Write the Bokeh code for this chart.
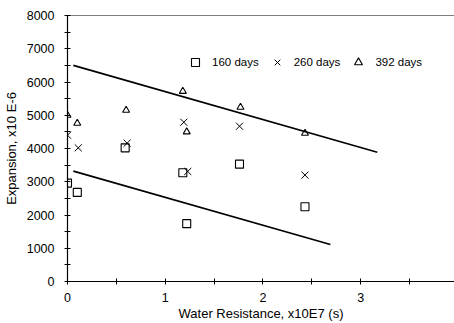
from bokeh.plotting import figure
from bokeh.models import FixedTicker, Span, Legend, LegendItem, Range1d
from bokeh.embed import file_html
from bokeh.resources import INLINE

# ---- data ----
x_160 = [0.0, 0.10, 0.59, 1.18, 1.22, 1.76, 2.43]
y_160 = [2960, 2680, 4020, 3270, 1740, 3530, 2250]
x_260 = [0.0, 0.11, 0.61, 1.19, 1.23, 1.76, 2.43]
y_260 = [4400, 4020, 4160, 4790, 3310, 4670, 3200]
x_392 = [0.0, 0.10, 0.60, 1.18, 1.22, 1.77, 2.43]
y_392 = [5000, 4760, 5150, 5720, 4500, 5240, 4460]

upper_x = [0.06, 3.17]
upper_y = [6500, 3890]
lower_x = [0.06, 2.69]
lower_y = [3320, 1110]

x_ticks = [0, 1, 2, 3, 4]
x_minor = [0.5, 1.5, 2.5, 3.5]
y_ticks = [0, 1000, 2000, 3000, 4000, 5000, 6000, 7000, 8000]
y_minor = [500, 1500, 2500, 3500, 4500, 5500, 6500, 7500]

FONT = "Liberation Sans"

p = figure(width=454, height=323, output_backend="svg", toolbar_location=None,
           x_range=Range1d(0, 3.96), y_range=Range1d(0, 8000),
           min_border_left=67, min_border_right=0, min_border_top=15, min_border_bottom=41)
p.outline_line_color = None
p.grid.visible = False
p.background_fill_color = "white"
p.border_fill_color = "white"

for ax in (p.xaxis[0], p.yaxis[0]):
    ax.axis_line_color = "black"
    ax.axis_line_width = 1.2
    ax.major_tick_in = 3
    ax.major_tick_out = 3
    ax.minor_tick_in = 3
    ax.minor_tick_out = 3
    ax.major_tick_line_color = "black"
    ax.minor_tick_line_color = "black"
    ax.major_label_text_font = FONT
    ax.major_label_text_font_size = "12.5px"
    ax.major_label_text_color = "black"
    ax.axis_label_text_font = FONT
    ax.axis_label_text_font_size = "13px"
    ax.axis_label_text_font_style = "normal"
    ax.axis_label_text_color = "black"

p.xaxis.ticker = FixedTicker(ticks=x_ticks, minor_ticks=x_minor)
p.yaxis.ticker = FixedTicker(ticks=y_ticks, minor_ticks=y_minor)
p.xaxis.axis_label = "Water Resistance, x10E7 (s)"
p.yaxis.axis_label = "Expansion, x10 E-6"
p.xaxis.major_label_standoff = 8
p.xaxis.axis_label_standoff = 1
p.yaxis.major_label_standoff = 10
p.yaxis.axis_label_standoff = 5

p.add_layout(Span(location=8000, dimension="width", line_color="black", line_width=1.2))

p.line(upper_x, upper_y, line_color="black", line_width=1.6)
p.line(lower_x, lower_y, line_color="black", line_width=1.6)

r1 = p.scatter(x_160, y_160, marker="square", size=8, fill_color=None, line_color="black", line_width=1.1)
r2 = p.scatter(x_260, y_260, marker="x", size=10, line_color="black", line_width=1.0)
r3 = p.scatter(x_392, y_392, marker="triangle", size=7, fill_color=None, line_color="black", line_width=1.1)

legend = Legend(items=[LegendItem(label="160 days", renderers=[r1]),
                       LegendItem(label="260 days", renderers=[r2]),
                       LegendItem(label="392 days", renderers=[r3])],
                orientation="horizontal", location=(118, 209),
                glyph_width=20, glyph_height=20, label_standoff=7, spacing=8,
                padding=0, margin=0, border_line_color=None, background_fill_alpha=0,
                label_text_font=FONT, label_text_font_size="11.5px", label_text_color="black",
                label_height=20)
p.add_layout(legend)

open("out.html", "w").write(file_html(p, INLINE))
